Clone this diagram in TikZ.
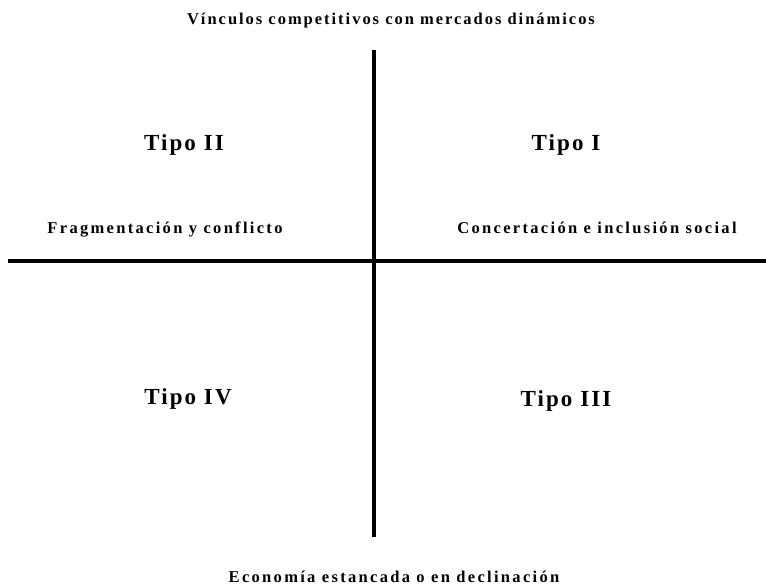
\documentclass[tikz,border=0pt]{standalone}
\usepackage{fontspec}
\setmainfont{Liberation Serif}
\newfontfamily\spaced[LetterSpace=14]{Liberation Serif}
\newfontfamily\topspaced[LetterSpace=12]{Liberation Serif}
\newfontfamily\bigspaced[LetterSpace=9]{Liberation Serif}
\begin{document}
\begin{tikzpicture}[x=1pt,y=-1pt,
  axis/.style={line width=4.5pt},
  small/.style={font=\spaced\bfseries\fontsize{16.5}{19}\selectfont, inner sep=0pt, anchor=base},
  topsmall/.style={font=\topspaced\bfseries\fontsize{16.5}{19}\selectfont, inner sep=0pt, anchor=base},
  big/.style={font=\bigspaced\bfseries\fontsize{23}{27}\selectfont, inner sep=0pt, anchor=base}]
\useasboundingbox (0,0) rectangle (766,586);
\coordinate (vt) at (374,50);
\coordinate (vb) at (374,537);
\coordinate (hl) at (8,261);
\coordinate (hr) at (766,261);
\draw[axis] (vt) -- (vb);
\draw[axis] (hl) -- (hr);
\node[topsmall] (top) at (391,25) {Vínculos competitivos con mercados dinámicos};
\node[small] (bot) at (394,582) {Economía estancada o en declinación};
\node[big] (t2) at (184,150) {Tipo II};
\node[big] (t1) at (566,150) {Tipo I};
\node[small] (frag) at (165,233) {Fragmentación y conflicto};
\node[small] (conc) at (597,233) {Concertación e inclusión social};
\node[big] (t4) at (188,404) {Tipo IV};
\node[big] (t3) at (566,406) {Tipo III};
\end{tikzpicture}
\end{document}
